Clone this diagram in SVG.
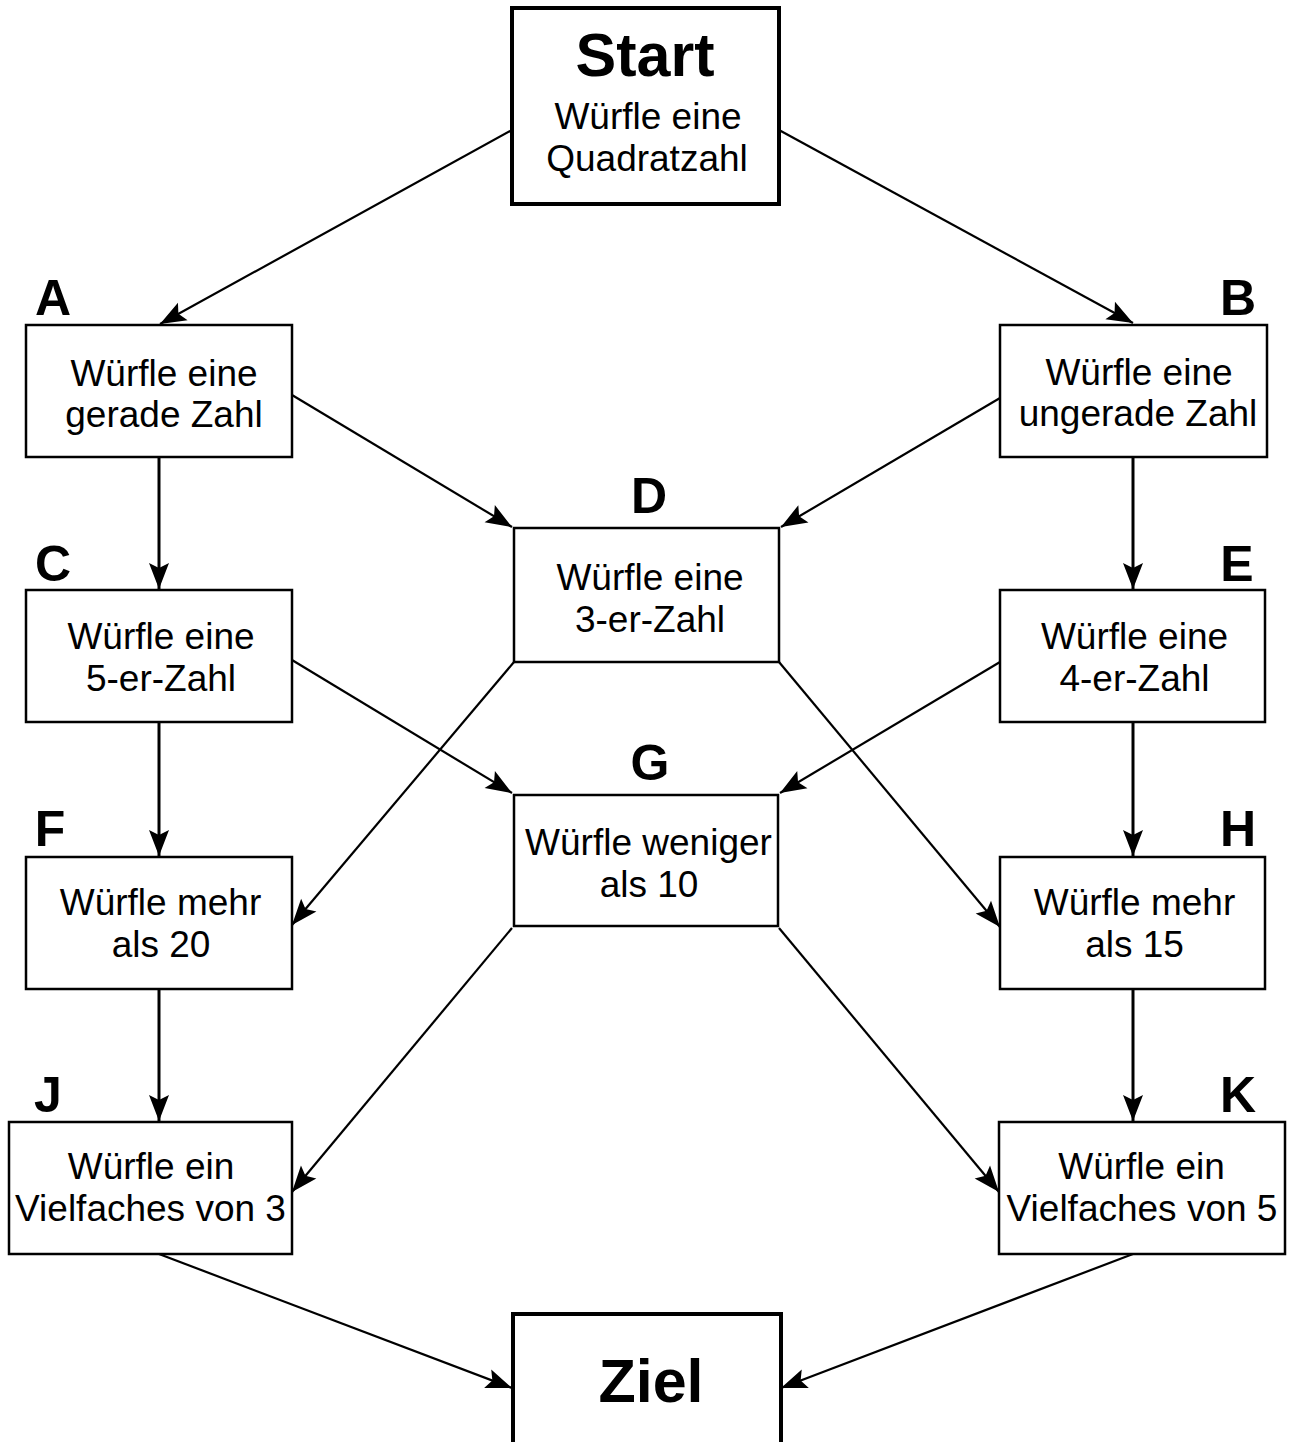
<svg xmlns="http://www.w3.org/2000/svg" width="1290" height="1442" viewBox="0 0 1290 1442">
<style>
.box{fill:#fff;stroke:#000;stroke-width:2.5}
.big{fill:#fff;stroke:#000;stroke-width:4}
.t{font-family:"Liberation Sans",Arial,sans-serif;font-size:37px;text-anchor:middle;fill:#000}
.b{font-family:"Liberation Sans",Arial,sans-serif;font-weight:bold;font-size:61px;text-anchor:middle;fill:#000}
.l{font-family:"Liberation Sans",Arial,sans-serif;font-weight:bold;font-size:50px;text-anchor:middle;fill:#000}
.c line{stroke:#000;stroke-width:2.2;marker-end:url(#ah)}
.c line.v{stroke-width:3}
</style>
<defs>
<marker id="ah" markerUnits="userSpaceOnUse" markerWidth="30" markerHeight="24" refX="26" refY="10" orient="auto" overflow="visible">
<path d="M0,0 L26,10 L0,20 L5,10 Z" fill="#000"/>
</marker>
</defs>
<rect width="1290" height="1442" fill="#fff"/>
<g class="c">
<line x1="512" y1="130" x2="160" y2="324"/>
<line x1="779" y1="130" x2="1133" y2="323"/>
<line x1="292" y1="395" x2="512" y2="527"/>
<line x1="1000" y1="398" x2="781" y2="527"/>
<line class="v" x1="159" y1="457" x2="159" y2="589"/>
<line class="v" x1="1133" y1="457" x2="1133" y2="589"/>
<line x1="292" y1="660" x2="512" y2="793"/>
<line x1="1000" y1="662" x2="780" y2="793"/>
<line x1="514" y1="662" x2="292" y2="925"/>
<line x1="779" y1="662" x2="1000" y2="927"/>
<line class="v" x1="159" y1="722" x2="159" y2="856"/>
<line class="v" x1="1133" y1="722" x2="1133" y2="856"/>
<line x1="512" y1="928" x2="292" y2="1192"/>
<line x1="779" y1="928" x2="999" y2="1192"/>
<line class="v" x1="159" y1="989" x2="159" y2="1121"/>
<line class="v" x1="1133" y1="989" x2="1133" y2="1121"/>
<line x1="159" y1="1254" x2="512" y2="1388"/>
<line x1="1133" y1="1254" x2="781" y2="1388"/>
</g>
<g id="start"><rect class="big" x="512" y="8" width="267" height="196"/><text class="b" x="645" y="76">Start</text><text class="t" x="648" y="129">Würfle eine</text><text class="t" x="647" y="171">Quadratzahl</text></g>
<g id="A"><rect class="box" x="26" y="325" width="266" height="132"/><text class="l" x="53" y="315">A</text><text class="t" x="164" y="386">Würfle eine</text><text class="t" x="164" y="427">gerade Zahl</text></g>
<g id="B"><rect class="box" x="1000" y="325" width="267" height="132"/><text class="l" x="1238" y="315">B</text><text class="t" x="1139" y="385">Würfle eine</text><text class="t" x="1138" y="426">ungerade Zahl</text></g>
<g id="D"><rect class="box" x="514" y="528" width="265" height="134"/><text class="l" x="649" y="513">D</text><text class="t" x="650" y="590">Würfle eine</text><text class="t" x="650" y="632">3-er-Zahl</text></g>
<g id="C"><rect class="box" x="26" y="590" width="266" height="132"/><text class="l" x="53" y="581">C</text><text class="t" x="161" y="649">Würfle eine</text><text class="t" x="161" y="691">5-er-Zahl</text></g>
<g id="E"><rect class="box" x="1000" y="590" width="265" height="132"/><text class="l" x="1237" y="581">E</text><text class="t" x="1134.5" y="649">Würfle eine</text><text class="t" x="1134.5" y="691">4-er-Zahl</text></g>
<g id="G"><rect class="box" x="514" y="795" width="264" height="131"/><text class="l" x="650" y="780">G</text><text class="t" x="648.5" y="855">Würfle weniger</text><text class="t" x="649" y="897">als 10</text></g>
<g id="F"><rect class="box" x="26" y="857" width="266" height="132"/><text class="l" x="50" y="846">F</text><text class="t" x="160.5" y="915">Würfle mehr</text><text class="t" x="161" y="957">als 20</text></g>
<g id="H"><rect class="box" x="1000" y="857" width="265" height="132"/><text class="l" x="1238" y="846">H</text><text class="t" x="1134.5" y="915">Würfle mehr</text><text class="t" x="1134.5" y="957">als 15</text></g>
<g id="J"><rect class="box" x="9" y="1122" width="283" height="132"/><text class="l" x="48" y="1112">J</text><text class="t" x="151" y="1179">Würfle ein</text><text class="t" x="150.5" y="1221">Vielfaches von 3</text></g>
<g id="K"><rect class="box" x="999" y="1122" width="286" height="132"/><text class="l" x="1238" y="1112">K</text><text class="t" x="1141.5" y="1179">Würfle ein</text><text class="t" x="1142" y="1221">Vielfaches von 5</text></g>
<g id="ziel"><rect class="big" x="513" y="1314" width="268" height="140"/><text class="b" x="651" y="1402">Ziel</text></g>
</svg>
